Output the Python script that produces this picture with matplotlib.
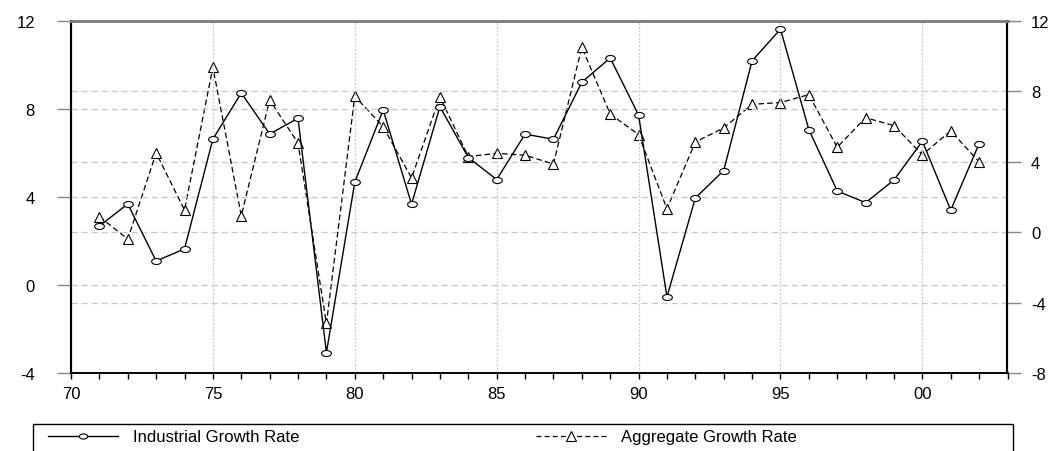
import matplotlib
matplotlib.use("Agg")
import matplotlib.pyplot as plt
import numpy as np
from matplotlib.path import Path
from matplotlib.lines import Line2D
from matplotlib.patches import Rectangle
from matplotlib.ticker import FixedLocator, FixedFormatter

plt.rcParams['font.family'] = ['Liberation Sans', 'DejaVu Sans']
plt.rcParams['font.size'] = 12
plt.rcParams['axes.unicode_minus'] = False

# Years of observation
years = list(range(1971, 2003))

# Industrial growth rate (left axis)
industrial = [2.69, 3.69, 1.10, 1.65, 6.64, 8.73, 6.87, 7.58, -3.06, 4.68,
              7.96, 3.68, 8.11, 5.80, 4.80, 6.86, 6.63, 9.22, 10.32, 7.73,
              -0.53, 3.96, 5.21, 10.19, 11.63, 7.07, 4.28, 3.75, 4.78, 6.54,
              3.41, 6.43]

# Aggregate growth rate (right axis)
aggregate = [0.89, -0.38, 4.51, 1.27, 9.37, 0.94, 7.52, 5.07, -5.17, 7.73,
             6.00, 3.09, 7.70, 4.30, 4.49, 4.38, 3.88, 10.51, 6.72, 5.55,
             1.34, 5.13, 5.93, 7.27, 7.37, 7.82, 4.83, 6.51, 6.06, 4.41,
             5.76, 4.00]

x_major = [1970, 1975, 1980, 1985, 1990, 1995, 2000]
x_labels = ['70', '75', '80', '85', '90', '95', '00']
left_ticks = [-4, 0, 4, 8, 12]
right_ticks = [-8, -4, 0, 4, 8, 12]

# flattened circle marker like the original
circ = Path.unit_circle()
ellipse = Path(circ.vertices * np.array([1.0, 0.62]), circ.codes)

fig = plt.figure(figsize=(10.53, 4.52), dpi=100)
W, H = 1053, 452
ax = fig.add_axes([71 / W, 1 - 374.3 / H, (1007.5 - 71) / W, (374.3 - 22) / H])
ax2 = ax.twinx()

grid_col = '#c8c8c8'

# left axis
ax.set_xlim(1970, 2003)
ax.set_ylim(-4, 12)
ax.set_yticks(left_ticks)
for v in [0, 4, 8]:
    ax.axhline(v, color=grid_col, lw=0.9, ls=(0, (5, 3)), zorder=0)
for v in x_major[1:]:
    ax.axvline(v, color=grid_col, lw=0.9, ls=(0, (1.5, 1.5)), zorder=0)

ax.xaxis.set_major_locator(FixedLocator(x_major))
ax.xaxis.set_major_formatter(FixedFormatter(x_labels))
ax.xaxis.set_minor_locator(FixedLocator(list(range(1970, 2004))))
ax.tick_params(axis='x', which='both', direction='out', length=4.5, width=1,
               color='black', pad=5)
ax.tick_params(axis='y', direction='out', length=10, width=1, color='#888888',
               pad=16, labelsize=12)
ax.tick_params(axis='x', labelsize=12)

# right axis
ax2.set_ylim(-8, 12)
ax2.set_yticks(right_ticks)
for v in [-4, 0, 4, 8]:
    ax2.axhline(v, color=grid_col, lw=0.9, ls=(0, (5, 3)), zorder=0)
ax2.tick_params(axis='y', direction='out', length=10, width=1, color='#888888',
                pad=7, labelsize=12)

ax2.plot(years, aggregate, color='black', lw=0.9, ls=(0, (4.5, 2.5)),
         marker='^', ms=7.5, mfc='white', mec='black', mew=0.8, zorder=3)
ax.set_zorder(ax2.get_zorder() + 1)
ax.patch.set_visible(False)
ax.plot(years, industrial, color='black', lw=1.0, marker=ellipse, ms=7,
        mfc='white', mec='black', mew=0.8, zorder=3)

for a in (ax, ax2):
    a.spines['top'].set_color('#808080')
    a.spines['top'].set_linewidth(2)
    a.spines['left'].set_linewidth(1.5)
    a.spines['right'].set_linewidth(1.5)
    a.spines['bottom'].set_linewidth(1.2)

# legend box, cut off by the bottom of the figure
fig.add_artist(Rectangle((33 / W, -0.05), (1013 - 33) / W, 0.05 + (452 - 425) / H,
                         transform=fig.transFigure, fill=False, lw=1,
                         edgecolor='black'))
handles = [
    Line2D([], [], color='black', lw=1.0, marker=ellipse, ms=6, mfc='white',
           mec='black', mew=0.8),
    Line2D([], [], color='black', lw=0.9, ls=(0, (4, 2.5)), marker='^', ms=6.5,
           mfc='white', mec='black', mew=0.8),
]
fig.legend(handles, ['Industrial Growth Rate', 'Aggregate Growth Rate'],
           loc='center left', bbox_to_anchor=(48 / W, 1 - 438 / H), ncol=2,
           frameon=False, handlelength=4.2, handletextpad=0.9,
           columnspacing=14.2, borderpad=0, borderaxespad=0, numpoints=1,
           fontsize=12)

fig.savefig('out.png', dpi=100)
